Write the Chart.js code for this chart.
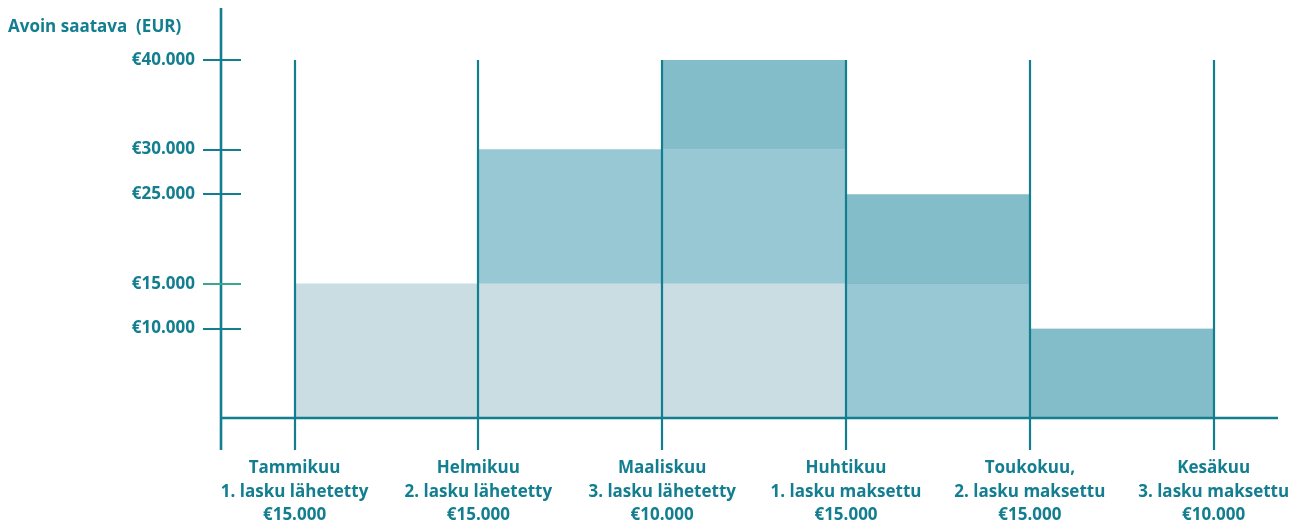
<!DOCTYPE html>
<html>
<head>
<meta charset="utf-8">
<script src="https://cdn.jsdelivr.net/npm/chart.js@4/dist/chart.umd.min.js"></script>
<style>
  html, body { margin: 0; padding: 0; background: #fff; }
  canvas { display: block; }
</style>
</head>
<body>
<canvas id="myChart" width="1311" height="525"></canvas>
<script>
// data
const months = ['Tammikuu', 'Helmikuu', 'Maaliskuu', 'Huhtikuu', 'Toukokuu,', 'Kesäkuu'];
const events = ['1. lasku lähetetty', '2. lasku lähetetty', '3. lasku lähetetty',
                '1. lasku maksettu', '2. lasku maksettu', '3. lasku maksettu'];
const amounts = ['€15.000', '€15.000', '€10.000', '€15.000', '€15.000', '€10.000'];
const monthPos = [0, 1, 2, 3, 4, 5];
const periodMid = [0.5, 1.5, 2.5, 3.5, 4.5];
const lasku1 = [15000, 15000, 15000, null, null];
const lasku2 = [null, 15000, 15000, 15000, null];
const lasku3 = [null, null, 10000, 10000, 10000];
const yTickValues = [10000, 15000, 25000, 30000, 40000];
const yTitle = 'Avoin saatava  (EUR)';

const TEAL = '#127e8f';
const GREEN = '#3aa68f';
const FONT = '"Open Sans", "Noto Sans", sans-serif';

function euro(v) {
    return '€' + String(v).replace(/\B(?=(\d{3})+(?!\d))/g, '.');
}

function points(values) {
    return periodMid.map((x, i) => ({ x: x, y: values[i] }));
}

const axesPlugin = {
    id: 'axesPlugin',
    afterDatasetsDraw(chart) {
        const ctx = chart.ctx;
        const xs = chart.scales.x;
        const ys = chart.scales.y;
        const left = chart.chartArea.left;
        const y0 = ys.getPixelForValue(0);
        const yTop = ys.getPixelForValue(ys.max);
        ctx.save();
        ctx.strokeStyle = TEAL;

        // month lines
        ctx.lineWidth = 2.2;
        monthPos.forEach(m => {
            const x = Math.round(xs.getPixelForValue(m));
            ctx.beginPath();
            ctx.moveTo(x, yTop);
            ctx.lineTo(x, y0 + 32);
            ctx.stroke();
        });

        // axis lines
        ctx.lineWidth = 2.6;
        ctx.beginPath();
        ctx.moveTo(left, 8);
        ctx.lineTo(left, y0 + 32);
        ctx.stroke();
        ctx.beginPath();
        ctx.moveTo(left, y0);
        ctx.lineTo(chart.chartArea.right, y0);
        ctx.stroke();

        // y tick marks
        ctx.lineWidth = 2.2;
        yTickValues.forEach(v => {
            const y = Math.round(ys.getPixelForValue(v));
            ctx.strokeStyle = v === 15000 ? GREEN : TEAL;
            ctx.beginPath();
            ctx.moveTo(left - 18, y);
            ctx.lineTo(left + 20, y);
            ctx.stroke();
        });

        // axis title
        ctx.fillStyle = TEAL;
        ctx.font = 'bold 17px ' + FONT;
        ctx.textAlign = 'left';
        ctx.textBaseline = 'middle';
        ctx.fillText(yTitle, 8, 27);
        ctx.restore();
    }
};

new Chart(document.getElementById('myChart'), {
    type: 'bar',
    data: {
        datasets: [
            {
                label: '1. lasku',
                data: points(lasku1),
                backgroundColor: '#c9dde3',
                borderWidth: 0
            },
            {
                label: '2. lasku',
                data: points(lasku2),
                backgroundColor: '#98c8d4',
                borderWidth: 0
            },
            {
                label: '3. lasku',
                data: points(lasku3),
                backgroundColor: '#83bdc9',
                borderColor: '#6aaebd',
                borderWidth: { top: 0, left: 0, right: 0, bottom: 1 },
                borderSkipped: false
            }
        ]
    },
    options: {
        responsive: false,
        animation: false,
        barPercentage: 1,
        categoryPercentage: 1,
        layout: { padding: { top: 60, right: 33, left: 0, bottom: 0 } },
        plugins: {
            legend: { display: false },
            tooltip: { enabled: false }
        },
        scales: {
            x: {
                type: 'linear',
                offset: false,
                min: -0.4,
                max: 5.35,
                stacked: true,
                grid: { display: false, drawTicks: false, offset: false },
                border: { display: false },
                afterBuildTicks(scale) {
                    scale.ticks = monthPos.map(v => ({ value: v }));
                },
                afterFit(scale) {
                    scale.height = 107;
                    scale.paddingLeft = 0;
                    scale.paddingRight = 0;
                },
                ticks: {
                    autoSkip: false,
                    maxRotation: 0,
                    padding: 38,
                    color: TEAL,
                    font: { family: FONT, size: 17, weight: 'bold', lineHeight: 1.4 },
                    callback: (v) => [months[v], events[v], amounts[v]]
                }
            },
            y: {
                min: 0,
                max: 40000,
                stacked: true,
                grid: { display: false, drawTicks: false },
                border: { display: false },
                afterBuildTicks(scale) {
                    scale.ticks = yTickValues.map(v => ({ value: v }));
                },
                afterFit(scale) {
                    scale.width = 221;
                    scale.paddingTop = 0;
                    scale.paddingBottom = 0;
                },
                ticks: {
                    padding: 26,
                    color: TEAL,
                    font: { family: FONT, size: 17, weight: 'bold' },
                    callback: (v) => euro(v)
                }
            }
        }
    },
    plugins: [axesPlugin]
});
</script>
</body>
</html>
